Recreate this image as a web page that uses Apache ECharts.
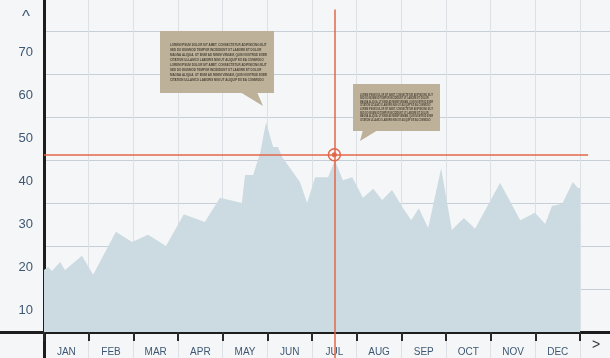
<!DOCTYPE html>
<html>
<head>
<meta charset="utf-8">
<script src="https://cdn.jsdelivr.net/npm/echarts@6/dist/echarts.min.js"></script>
<style>
html,body{margin:0;padding:0;background:#f5f6f7;}
#c{width:610px;height:358px;}
</style>
</head>
<body>
<div id="c"></div>
<script>
// ---- data ----
const months = ['JAN','FEB','MAR','APR','MAY','JUN','JUL','AUG','SEP','OCT','NOV','DEC'];
const yTickLabels = [10, 20, 30, 40, 50, 60, 70];
const yGridValues = [5, 15, 25, 35, 45, 55, 65, 75];
// position along the year (in months from start of JAN) and value of each point
const pointMonth = [0.00,0.09,0.18,0.36,0.47,0.85,1.10,1.61,1.97,2.33,2.73,3.13,3.60,3.94,4.43,4.50,4.68,4.84,4.97,5.13,5.24,5.33,5.73,5.89,6.07,6.36,6.51,6.69,6.90,7.14,7.37,7.57,7.79,8.04,8.22,8.39,8.60,8.89,9.13,9.40,9.65,10.21,10.66,10.99,11.22,11.37,11.60,11.84,11.95,12.00];
const pointValue = [19.4,20.1,19.2,21.3,19.4,22.7,18.3,28.3,25.9,27.6,25.0,32.4,30.6,36.2,35.0,41.5,41.5,46.6,53.8,48.0,48.0,45.7,39.9,35.0,41.0,41.0,45.0,40.3,41.0,36.2,38.3,35.7,38.0,33.8,31.0,33.8,29.2,43.1,28.7,31.5,29.0,39.7,31.0,32.7,30.1,34.3,34.8,39.9,38.5,38.5];
const crosshairMonth = 6.5;
const crosshairValue = 46.2;
const calloutLines = [
  'LOREM IPSUM DOLOR SIT AMET, CONSECTETUR ADIPISICING ELIT',
  'SED DO EIUSMOD TEMPOR INCIDIDUNT UT LABORE ET DOLOR',
  'MAGNA ALIQUA. UT ENIM AD MINIM VENIAM, QUIS NOSTRUD EXER',
  'CITATION ULLAMCO LABORIS NISI UT ALIQUIP EX EA COMMODO',
  'LOREM IPSUM DOLOR SIT AMET, CONSECTETUR ADIPISICING ELIT',
  'SED DO EIUSMOD TEMPOR INCIDIDUNT UT LABORE ET DOLOR',
  'MAGNA ALIQUA. UT ENIM AD MINIM VENIAM, QUIS NOSTRUD EXER',
  'CITATION ULLAMCO LABORIS NISI UT ALIQUIP EX EA COMMODO'
];

// ---- styling ----
const RED = '#e2674a';
const LABEL = '#3e5873';
const AXIS = '#1d1d1d';
const BOX = '#bdb19a';
const FONT = 'Liberation Sans';
const Y_MIN = -1.05, Y_MAX = 82.2;

const monthEdges = months.map((m, i) => i).concat([months.length]);
const monthCenters = months.map((m, i) => i + 0.5);

function fitText(lines, left, top, width, lineH, fontSize) {
  const ctx = document.createElement('canvas').getContext('2d');
  ctx.font = 'bold ' + fontSize + 'px "' + FONT + '"';
  const w = Math.max.apply(null, lines.map(l => ctx.measureText(l).width));
  return {
    type: 'text', x: left, y: top, scaleX: width / w, scaleY: 1, silent: true, z: 11,
    style: { text: lines.join('\n'), fontSize: fontSize, fontFamily: FONT, fontWeight: 'bold', lineHeight: lineH,
             fill: '#4a4436', align: 'left', verticalAlign: 'top' }
  };
}

const chart = echarts.init(document.getElementById('c'), null, { renderer: 'canvas' });
chart.setOption({
  backgroundColor: '#f5f6f7',
  animation: false,
  grid: [
    { left: 44, right: 0, top: 0, bottom: 0 },
    { left: 0, width: 44, top: 0, bottom: 0 }
  ],
  xAxis: [{
    type: 'value', gridIndex: 0, min: 0, max: 12.67, offset: -26,
    axisLine: { show: true, onZero: false, lineStyle: { color: AXIS, width: 3 } },
    axisTick: { show: true, customValues: monthEdges, length: 9, lineStyle: { color: '#2a2a2a', width: 2 } },
    axisLabel: { customValues: monthCenters, formatter: v => months[Math.floor(v)],
                 color: LABEL, fontSize: 10, fontFamily: FONT, margin: 15 },
    splitLine: { show: true, lineStyle: { color: '#dde1e6', width: 1 } }
  }, {
    type: 'value', gridIndex: 1, min: 0, max: 1, offset: -26,
    axisLine: { show: true, onZero: false, lineStyle: { color: AXIS, width: 3 } },
    axisTick: { show: false }, axisLabel: { show: false }, splitLine: { show: false }
  }],
  yAxis: [{
    type: 'value', gridIndex: 0, min: Y_MIN, max: Y_MAX,
    axisLine: { show: true, lineStyle: { color: AXIS, width: 3 } },
    axisTick: { show: false, customValues: yGridValues },
    axisLabel: { customValues: yTickLabels, color: LABEL, fontSize: 13, fontFamily: FONT, margin: 11 },
    splitLine: { show: true, lineStyle: { color: '#c6ced7', width: 1 } }
  }, {
    type: 'value', gridIndex: 1, min: Y_MIN, max: Y_MAX, show: false
  }],
  series: [{
    type: 'line', xAxisIndex: 0, yAxisIndex: 0,
    data: pointMonth.map((t, i) => [t, pointValue[i]]),
    symbol: 'none', smooth: false,
    lineStyle: { width: 0 },
    areaStyle: { color: '#ccdbe2', opacity: 1, origin: 5 },
    markLine: {
      silent: true, symbol: ['none', 'none'], label: { show: false },
      lineStyle: { color: RED, width: 1.5, type: 'solid' },
      data: [
        [{ coord: [crosshairMonth, 80] }, { coord: [crosshairMonth, Y_MIN] }],
        [{ coord: [0, crosshairValue] }, { coord: [12.18, crosshairValue] }]
      ]
    },
    markPoint: {
      silent: true, label: { show: false },
      data: [
        { coord: [crosshairMonth, crosshairValue], symbol: 'circle', symbolSize: 12,
          itemStyle: { color: 'rgba(0,0,0,0)', borderColor: RED, borderWidth: 1.5 } },
        { coord: [crosshairMonth, crosshairValue], symbol: 'circle', symbolSize: 5,
          itemStyle: { color: RED } }
      ]
    }
  }],
  graphic: [
    { type: 'text', left: 22, top: 9, silent: true, z: 10,
      style: { text: '^', fontSize: 17, fontFamily: FONT, fill: LABEL } },
    { type: 'text', left: 592, top: 338, silent: true, z: 10,
      style: { text: '>', fontSize: 14, fontFamily: FONT, fill: '#333333' } },
    { type: 'rect', silent: true, z: 10, shape: { x: 160, y: 31, width: 114, height: 62 }, style: { fill: BOX } },
    { type: 'polygon', silent: true, z: 10, shape: { points: [[240, 92], [257, 92], [263, 106]] }, style: { fill: BOX } },
    fitText(calloutLines, 170, 42, 97, 5, 4.2),
    { type: 'rect', silent: true, z: 10, shape: { x: 353, y: 84, width: 87, height: 47 }, style: { fill: BOX } },
    { type: 'polygon', silent: true, z: 10, shape: { points: [[363, 130], [378, 130], [360, 141]] }, style: { fill: BOX } },
    fitText(calloutLines, 360, 93, 73, 3.6, 3.2)
  ]
});
</script>
</body>
</html>
